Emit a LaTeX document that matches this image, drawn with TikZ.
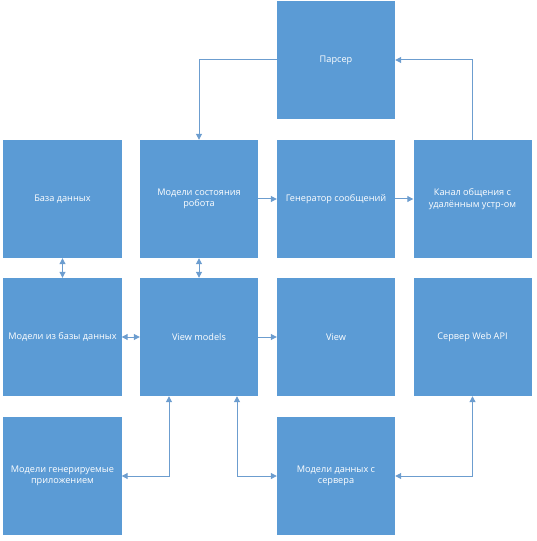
\documentclass[tikz,border=0pt]{standalone}
\usepackage{fontspec}
\setmainfont{Open Sans}
\usetikzlibrary{arrows.meta}
\definecolor{boxblue}{HTML}{5B9BD5}
\definecolor{lineblue}{HTML}{6C9DCF}
\begin{document}
\begin{tikzpicture}[x=1bp,y=-1bp,
  blk/.style={fill=boxblue,draw=none,minimum width=118bp,minimum height=118bp,inner sep=1bp,
    text=white,align=center,font=\fontsize{9.2}{11.5}\selectfont},
  conn/.style={draw=lineblue,line width=1bp,-{Triangle[length=6bp,width=6bp]}},
  bconn/.style={draw=lineblue,line width=1bp,{Triangle[length=6bp,width=6bp]}-{Triangle[length=6bp,width=6bp]}}]
\useasboundingbox (0,0) rectangle (537,541);
\node[blk] (parser) at (336,60) {Парсер};
\node[blk] (bd) at (62.5,199) {База данных};
\node[blk] (ms) at (199,199) {Модели состояния\\робота};
\node[blk] (gen) at (336,199) {Генератор сообщений};
\node[blk] (kanal) at (472.5,199) {Канал общения с\\удалённым устр-ом};
\node[blk] (mdb) at (62.5,337) {Модели из базы данных};
\node[blk] (vm) at (199,337) {View models};
\node[blk] (view) at (336,337) {View};
\node[blk] (srv) at (472.5,337) {Сервер Web API};
\node[blk] (mg) at (62.5,476) {Модели генерируемые\\приложением};
\node[blk] (mds) at (336,476) {Модели данных с\\сервера};
\draw[conn] (parser.west) -| (ms.north);
\draw[conn] (kanal.north) |- (parser.east);
\draw[conn] (ms.east) -- (gen.west);
\draw[conn] (gen.east) -- (kanal.west);
\draw[bconn] (bd.south) -- (mdb.north);
\draw[bconn] (ms.south) -- (vm.north);
\draw[bconn] (mdb.east) -- (vm.west);
\draw[conn] (vm.east) -- (view.west);
\draw[bconn] (vm.south -| 169,0) |- (mg.east);
\draw[bconn] (vm.south -| 237,0) |- (mds.west);
\draw[bconn] (mds.east) -| (srv.south);
\end{tikzpicture}
\end{document}
